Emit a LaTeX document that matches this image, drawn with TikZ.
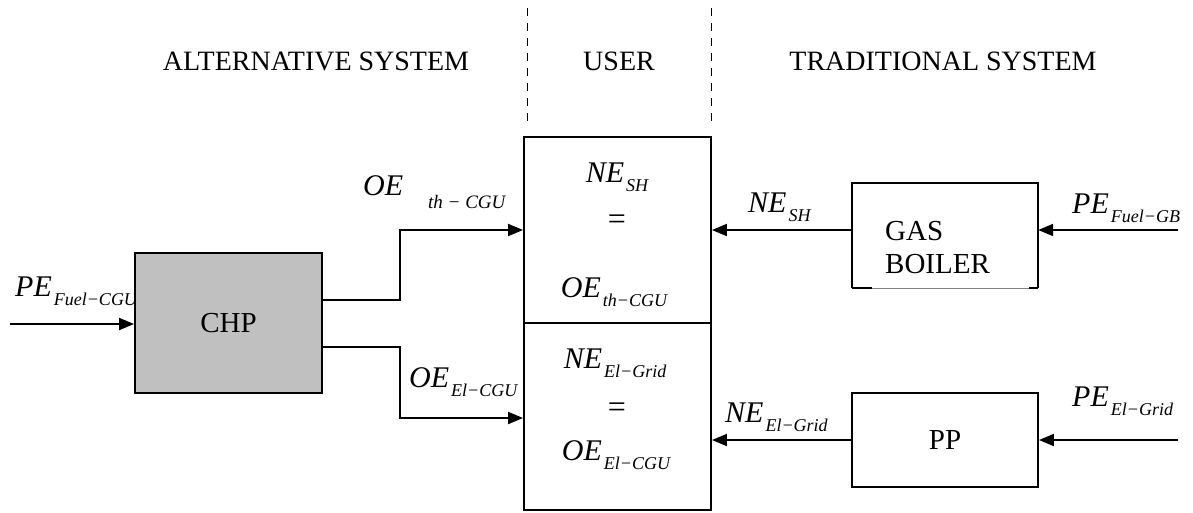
\documentclass[tikz,border=0pt]{standalone}
\usepackage{fontspec}
\setmainfont{Liberation Serif}
\usetikzlibrary{arrows.meta}
\newcommand{\lab}[2]{{\fontsize{30}{30}\selectfont\itshape #1}\hspace{2pt}\raisebox{-9pt}{\fontsize{18}{18}\selectfont\itshape #2}}
\tikzset{
  box/.style={draw, line width=1.9pt, inner sep=0pt},
  arr/.style={line width=1.9pt, -{Triangle[length=15pt,width=12pt]}},
  con/.style={line width=1.9pt},
  sep/.style={line width=1pt, dash pattern=on 8pt off 7pt},
  hdr/.style={inner sep=0pt, anchor=base, font=\fontsize{28}{28}\selectfont},
  txt/.style={inner sep=0pt, font=\fontsize{29}{29}\selectfont},
  mlab/.style={inner sep=0pt, anchor=base west},
  mc/.style={inner sep=0pt, anchor=base}
}
\begin{document}
\begin{tikzpicture}[x=1pt,y=-1pt]
\useasboundingbox (0,0) rectangle (1193,512);
% headers
\node[hdr] (halt) at (316,70) {ALTERNATIVE SYSTEM};
\node[hdr] (husr) at (619,70) {USER};
\node[hdr] (htrad) at (943,70) {TRADITIONAL SYSTEM};
\coordinate (d1a) at (527,8); \coordinate (d1b) at (527,124);
\coordinate (d2a) at (711,8); \coordinate (d2b) at (711,124);
\draw[sep] (d1a) -- (d1b);
\draw[sep] (d2a) -- (d2b);
% CHP input label (drawn first, box covers its end)
\node[mlab] (lpefuel) at (15,296) {\lab{PE}{Fuel−CGU}};
% boxes
\node[box, fill={rgb,255:red,192;green,192;blue,192}, minimum width=187pt, minimum height=140pt, font=\fontsize{29}{29}\selectfont] (chp) at (228.5,323) {CHP};
\node[box, minimum width=187pt, minimum height=186pt] (usrA) at (617.5,230) {};
\node[box, minimum width=187pt, minimum height=187pt] (usrB) at (617.5,416.5) {};
\node[inner sep=0pt, minimum width=186pt, minimum height=105pt] (gb) at (945,235.5) {};
\draw[con] (gb.south west) -- (gb.north west) -- (gb.north east) -- (gb.south east);
\draw[line width=0.6pt, gray] (gb.south west) -- (gb.south east);
\draw[con] (gb.south west) -- ++(20,0);
\draw[con] (gb.south east) -- ++(-9,0);
\node[txt, anchor=base west] (tgas) at (885,240) {GAS};
\node[txt, anchor=base west] (tboil) at (885,273) {BOILER};
\node[box, minimum width=186pt, minimum height=94pt, font=\fontsize{29}{29}\selectfont] (pp) at (945,440) {PP};
% user box contents
\node[mc] (neSH) at (617,182) {\lab{NE}{SH}};
\node[mc] (eqA) at (617,229) {\fontsize{32}{32}\selectfont =};
\node[mc] (oeTH) at (614,297) {\lab{OE}{th−CGU}};
\node[mc] (neEL) at (615,368) {\lab{NE}{El−Grid}};
\node[mc] (eqB) at (617,417) {\fontsize{32}{32}\selectfont =};
\node[mc] (oeEL) at (616,460) {\lab{OE}{El−CGU}};
% coordinates
\coordinate (inchp) at (10,324);
\coordinate (t1) at (400,300);
\coordinate (t2) at (400,347);
\coordinate (ingb) at (1178,230);
\coordinate (inpp) at (1178,440);
% connectors
\draw[arr] (inchp) -- (chp.west |- inchp);
\draw[arr] (chp.east |- t1) -- (t1) |- (usrA.west);
\draw[arr] (chp.east |- t2) -- (t2) |- ([yshift=-1.5pt]usrB.west);
\draw[arr] (gb.west |- usrA.east) -- (usrA.east);
\draw[arr] (ingb) -- (gb.east |- ingb);
\draw[arr] (pp.west) -- (usrB.east |- pp.west);
\draw[arr] (inpp) -- (pp.east |- inpp);
% connector labels
\node[mlab] (loeth) at (363,195) {{\fontsize{30}{30}\selectfont\itshape OE}\hspace{25pt}\raisebox{-13pt}{\fontsize{19}{19}\selectfont\itshape th − CGU}};
\node[mlab] (loeel) at (409,387) {\lab{OE}{El−CGU}};
\node[mlab] (lnesh) at (748,212) {\lab{NE}{SH}};
\node[mlab] (lpegb) at (1072,213) {\lab{PE}{Fuel−GB}};
\node[mlab] (lneel) at (725,422) {\lab{NE}{El−Grid}};
\node[mlab] (lpeel) at (1072,406) {\lab{PE}{El−Grid}};
\end{tikzpicture}
\end{document}
